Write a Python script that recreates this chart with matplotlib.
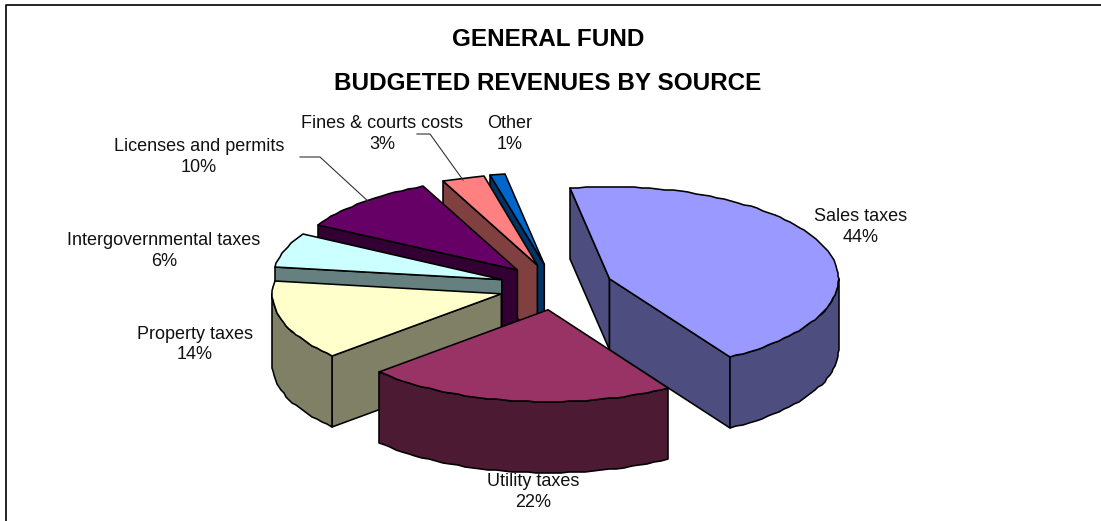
import numpy as np
import matplotlib
matplotlib.use("Agg")
import matplotlib.pyplot as plt
from matplotlib.patches import Polygon

plt.rcParams['font.family'] = ['Liberation Sans', 'DejaVu Sans']

sources = ["Sales taxes", "Utility taxes", "Property taxes", "Intergovernmental taxes",
           "Licenses and permits", "Fines & courts costs", "Other"]
shares = [44, 22, 14, 6, 10, 3, 1]
top_colors = ["#9999FF", "#993366", "#FFFFCC", "#CCFFFF", "#660066", "#FF8080", "#0066CC"]
side_colors = ["#4D4D80", "#4D1A33", "#808066", "#668080", "#330033", "#804040", "#003366"]
label_xy = [(861, 227), (533, 492), (195, 344.5), (164, 251), (199, 157), (382, 134), (510, 134)]

# pie geometry, in pixels
CX, CY = 556, 287
RX, RY = 229, 92
DEPTH = 71
EXPLODE = 0.25
START = -10
STEP = 2

fig = plt.figure(figsize=(11.01, 5.21), dpi=100)
ax = fig.add_axes([0, 0, 1, 1])
ax.set_xlim(0, 1101)
ax.set_ylim(521, 0)
ax.axis("off")


def ellipse(a, cx, cy):
    a = np.radians(a)
    return np.column_stack([cx + RX * np.sin(a), cy - RY * np.cos(a)])


def poly(pts, color, z):
    ax.add_patch(Polygon(pts, closed=True, facecolor=color, edgecolor="black",
                         linewidth=1.15, joinstyle="round", zorder=z))


def draw_slice(start, end, top, side, z):
    mid = (start + end) / 2
    ox, oy = ellipse(mid, 0, 0)[0] * EXPLODE
    apex = np.array([CX + ox, CY + oy])
    n = max(int((end - start) / STEP), 1) + 1
    rim = np.round(ellipse(np.linspace(start, end, n), apex[0], apex[1]))
    down = np.array([0, DEPTH])

    # cut faces, only the ones turned towards the viewer
    if np.sin(np.radians(start)) < 0:
        poly([apex, rim[0], rim[0] + down, apex + down], side, z)
    if np.sin(np.radians(end)) > 0:
        poly([apex, rim[-1], rim[-1] + down, apex + down], side, z)

    # outer wall exists only on the front half of the ellipse
    lo, hi = max(start, 90), min(end, 270)
    if hi > lo:
        m = max(int((hi - lo) / STEP), 1) + 1
        wall = np.round(ellipse(np.linspace(lo, hi, m), apex[0], apex[1]))
        poly(np.vstack([wall, wall[::-1] + down]), side, z)

    poly(np.vstack([[apex], rim]), top, z + 0.5)


edges = START + np.cumsum([0] + shares) * 3.6
# painted back to front
order = [6, 5, 4, 3, 2, 0, 1]
for i in order:
    draw_slice(edges[i], edges[i + 1], top_colors[i], side_colors[i], 2 + order.index(i))

for name, share, (x, y) in zip(sources, shares, label_xy):
    ax.text(x, y, f"{name}\n{share}%", ha="center", va="center", fontsize=13,
            linespacing=1.3, color="#111111", zorder=20)

# leader lines
ax.plot([300, 320, 370], [157, 157, 203], color="#333333", lw=0.8, zorder=20)
ax.plot([417, 430, 463], [134, 134, 180], color="#333333", lw=0.8, zorder=20)

ax.text(548, 40, "GENERAL FUND", ha="center", va="center", fontsize=17.5, fontweight="bold")
ax.text(548, 84, "BUDGETED REVENUES BY SOURCE", ha="center", va="center", fontsize=17.5, fontweight="bold")

# chart frame, open on the right and at the bottom
ax.plot([5.5, 5.5, 1101], [521, 4.5, 4.5], color="black", lw=1.2, zorder=30)

fig.savefig("out.png", dpi=100, facecolor="white")
